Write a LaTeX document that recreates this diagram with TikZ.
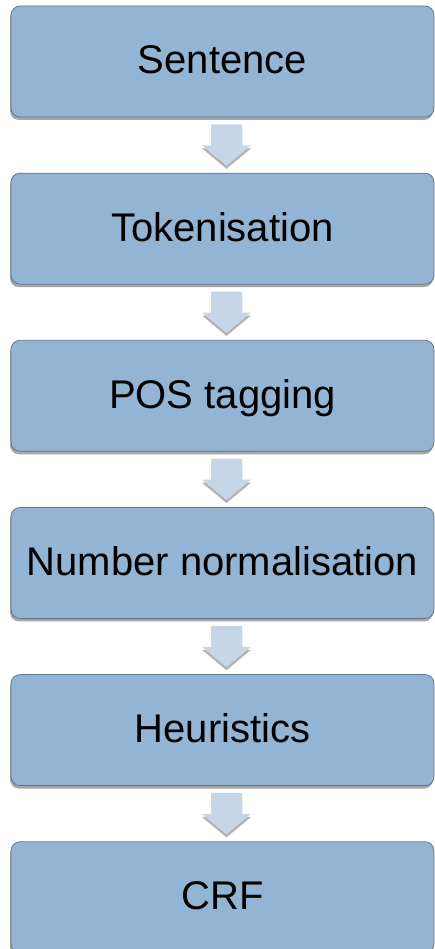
\documentclass[tikz,border=0pt]{standalone}
\usepackage{fontspec}
\setmainfont{Liberation Sans}
\usetikzlibrary{positioning, calc, shadows}
\definecolor{boxfill}{RGB}{148,180,211}
\definecolor{boxline}{RGB}{96,116,138}
\definecolor{arrfill}{RGB}{199,214,230}
\tikzset{
  stage/.style={rectangle, draw=boxline, fill=boxfill,
    minimum width=423pt, minimum height=111pt, inner sep=0pt,
    text height=29pt, text depth=4pt,
    rounded corners=9pt, line width=0.75pt,
    font=\fontsize{40}{48}\selectfont,
    drop shadow={shadow xshift=-1pt, shadow yshift=-3pt, opacity=0.35, fill=black}},
  blockarrow/.style={fill=arrfill,
    drop shadow={shadow xshift=0pt, shadow yshift=-3pt, opacity=0.3, fill=black}}
}

\begin{document}
\begin{tikzpicture}[node distance=55.4pt]
  \useasboundingbox (0,0) rectangle (435pt,-949pt);

  % pipeline stages
  \node[stage] (sent) at (222.5pt,-61.5pt) {Sentence};
  \node[stage, below=of sent] (tok) {Tokenisation};
  \node[stage, below=of tok] (pos) {POS tagging};
  \node[stage, below=of pos] (num) {Number normalisation};
  \node[stage, below=of num] (heur) {Heuristics};
  \node[stage, below=of heur] (crf) {CRF};

  % block arrows between stages
  \foreach \a/\b in {sent/tok, tok/pos, pos/num, num/heur, heur/crf}
    \fill[blockarrow] ($(\a.south)+(-11.5pt,-7pt)$) -- ++(31pt,0) -- ++(0,-21pt)
      -- ++(9pt,0) -- ($(\b.north)+(4pt,7pt)$)
      -- ($(\a.south)+(-20.5pt,-28pt)$) -- ++(9pt,0) -- cycle;
\end{tikzpicture}
\end{document}
